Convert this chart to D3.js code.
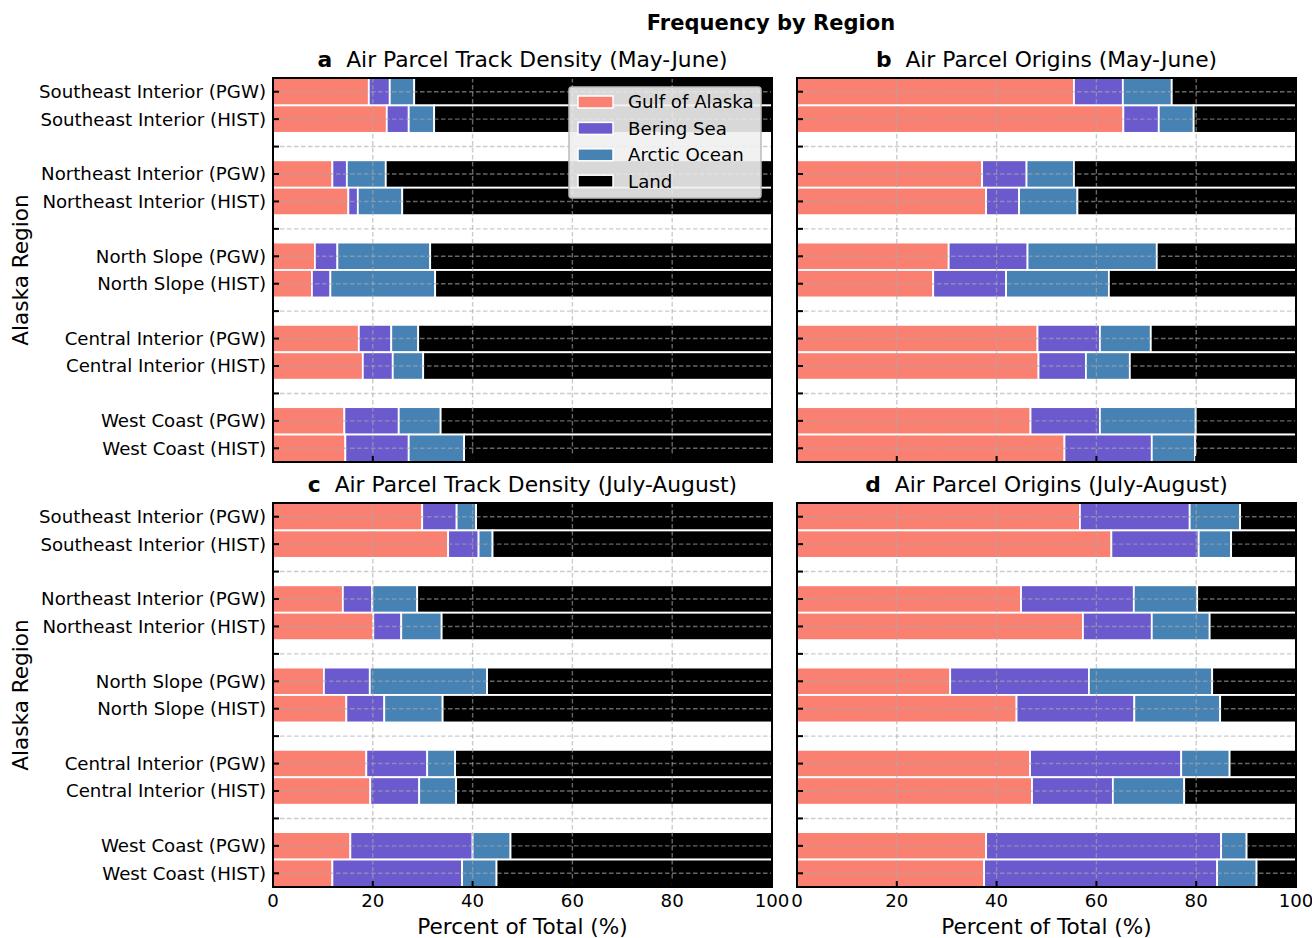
<!DOCTYPE html>
<html>
<head>
<meta charset="utf-8">
<script src="https://cdn.jsdelivr.net/npm/d3@7"></script>
<style>
  body { margin: 0; background: #fff; }
  svg { font-family: 'DejaVu Sans', sans-serif; }
</style>
</head>
<body>
<svg id="chart" width="1312" height="938"></svg>
<script>
// Sources and colours
const sources = ['Gulf of Alaska', 'Bering Sea', 'Arctic Ocean', 'Land'];
const sourceColors = ['#FA8072', '#6A5ACD', '#4682B4', '#000000'];

// Regions and runs (top to bottom)
const regions = ['Southeast Interior', 'Northeast Interior', 'North Slope', 'Central Interior', 'West Coast'];
const runs = ['PGW', 'HIST'];

const xTicks = [0, 20, 40, 60, 80, 100];

// Percent by source, one row per region/run: [Gulf, Bering, Arctic, Land]
const trackMayJun = [
    [19.2, 4.2, 4.9, 71.7], [22.8, 4.4, 5.1, 67.7],
    [11.9, 2.9, 7.8, 77.4], [15.1, 1.9, 8.9, 74.1],
    [8.4, 4.5, 18.6, 68.5], [7.8, 3.7, 21.0, 67.5],
    [17.2, 6.5, 5.4, 70.9], [18.0, 6.0, 6.1, 69.9],
    [14.3, 10.9, 8.4, 66.4], [14.5, 12.7, 11.1, 61.7]
];
const originsMayJun = [
    [55.5, 9.8, 9.8, 24.9], [65.4, 7.1, 7.0, 20.5],
    [37.1, 8.9, 9.5, 44.5], [37.9, 6.6, 11.7, 43.8],
    [30.4, 15.8, 25.9, 27.9], [27.3, 14.6, 20.6, 37.5],
    [48.2, 12.5, 10.2, 29.1], [48.4, 9.5, 8.8, 33.3],
    [46.8, 13.9, 19.2, 20.1], [53.6, 17.5, 8.7, 20.2]
];
const trackJulAug = [
    [29.9, 6.9, 3.9, 59.3], [35.1, 6.1, 2.8, 56.0],
    [14.0, 5.9, 9.0, 71.1], [20.1, 5.6, 8.1, 66.2],
    [10.2, 9.2, 23.5, 57.1], [14.7, 7.6, 11.7, 66.0],
    [18.7, 12.2, 5.6, 63.5], [19.5, 9.8, 7.4, 63.3],
    [15.5, 24.5, 7.6, 52.4], [11.9, 26.0, 6.9, 55.2]
];
const originsJulAug = [
    [56.7, 22.0, 10.1, 11.2], [63.0, 17.5, 6.5, 13.0],
    [44.9, 22.6, 12.7, 19.8], [57.3, 13.8, 11.6, 17.3],
    [30.7, 27.8, 24.7, 16.8], [44.0, 23.6, 17.2, 15.2],
    [46.7, 30.3, 9.7, 13.3], [47.1, 16.2, 14.3, 22.4],
    [37.9, 47.1, 5.1, 9.9], [37.5, 46.7, 7.9, 7.9]
];

const panels = [
    { letter: 'a', title: 'Air Parcel Track Density (May-June)', data: trackMayJun, x: 273, y: 78, ylab: true, xlab: false, legend: true },
    { letter: 'b', title: 'Air Parcel Origins (May-June)', data: originsMayJun, x: 797, y: 78, ylab: false, xlab: false, legend: false },
    { letter: 'c', title: 'Air Parcel Track Density (July-August)', data: trackJulAug, x: 273, y: 503, ylab: true, xlab: true, legend: false },
    { letter: 'd', title: 'Air Parcel Origins (July-August)', data: originsJulAug, x: 797, y: 503, ylab: false, xlab: true, legend: false }
];
const pw = 499, ph = 384;

// slot labels: PGW, HIST, gap for each region (last gap dropped)
const slots = [];
regions.forEach((r, i) => {
    runs.forEach(k => slots.push(`${r} (${k})`));
    if (i < regions.length - 1) slots.push('gap' + i);
});

const svg = d3.select('#chart');

svg.append('text')
    .attr('x', 771).attr('y', 30)
    .attr('text-anchor', 'middle')
    .style('font-size', '21px').style('font-weight', 'bold')
    .text('Frequency by Region');

panels.forEach(p => drawPanel(p));

function drawPanel(p) {
    const g = svg.append('g').attr('transform', `translate(${p.x},${p.y})`);
    const x = d3.scaleLinear().domain([0, 100]).range([0, pw]);
    const y = d3.scaleBand().domain(slots).range([0, ph]).padding(0);

    // stacked bars
    const rows = [];
    p.data.forEach((vals, i) => {
        const label = `${regions[Math.floor(i / 2)]} (${runs[i % 2]})`;
        let acc = 0;
        vals.forEach((v, s) => {
            rows.push({ label, s, x0: acc, x1: acc + v });
            acc += v;
        });
    });
    g.selectAll('rect.bar')
        .data(rows)
        .enter().append('rect')
        .attr('class', 'bar')
        .attr('x', d => x(d.x0))
        .attr('width', d => Math.min(x(d.x1), pw) - x(d.x0))
        .attr('y', d => y(d.label))
        .attr('height', y.bandwidth())
        .attr('fill', d => sourceColors[d.s])
        .attr('stroke', '#fff')
        .attr('stroke-width', 1.8);

    // grid over bars
    const grid = g.append('g')
        .attr('stroke', '#aaa')
        .attr('stroke-opacity', 0.6)
        .attr('stroke-width', 1.4)
        .attr('stroke-dasharray', '4.5,2.5');
    grid.selectAll('line.gx')
        .data(xTicks.slice(1, -1))
        .enter().append('line')
        .attr('x1', d => x(d)).attr('x2', d => x(d))
        .attr('y1', 0).attr('y2', ph);
    grid.selectAll('line.gy')
        .data(slots)
        .enter().append('line')
        .attr('x1', 0).attr('x2', pw)
        .attr('y1', d => y(d) + y.bandwidth() / 2)
        .attr('y2', d => y(d) + y.bandwidth() / 2);

    // inward ticks
    g.selectAll('line.ty')
        .data(slots)
        .enter().append('line')
        .attr('x1', 0).attr('x2', 6)
        .attr('y1', d => y(d) + y.bandwidth() / 2)
        .attr('y2', d => y(d) + y.bandwidth() / 2)
        .attr('stroke', '#000').attr('stroke-width', 2);
    g.selectAll('line.tx')
        .data(xTicks)
        .enter().append('line')
        .attr('x1', d => x(d)).attr('x2', d => x(d))
        .attr('y1', ph).attr('y2', ph - 6)
        .attr('stroke', '#000').attr('stroke-width', 2);

    // frame
    g.append('rect')
        .attr('width', pw).attr('height', ph)
        .attr('fill', 'none').attr('stroke', '#000').attr('stroke-width', 2);

    // y tick labels
    if (p.ylab) {
        g.selectAll('text.yt')
            .data(slots.filter(s => !s.startsWith('gap')))
            .enter().append('text')
            .attr('x', -7)
            .attr('y', d => y(d) + y.bandwidth() / 2)
            .attr('dy', '0.35em')
            .attr('text-anchor', 'end')
            .style('font-size', '18.2px')
            .text(d => d);
        g.append('text')
            .attr('transform', `translate(${20 - p.x},${ph / 2}) rotate(-90)`)
            .attr('text-anchor', 'middle')
            .attr('dy', '0.35em')
            .style('font-size', '21.6px')
            .text('Alaska Region');
    }
    if (p.xlab) {
        // x tick labels only on the bottom row
        g.selectAll('text.xt')
            .data(xTicks)
            .enter().append('text')
            .attr('x', d => x(d)).attr('y', ph + 20)
            .attr('text-anchor', 'middle')
            .style('font-size', '18.2px')
            .text(d => d);
        g.append('text')
            .attr('x', pw / 2).attr('y', ph + 47)
            .attr('text-anchor', 'middle')
            .style('font-size', '21.6px')
            .text('Percent of Total (%)');
    }

    // title
    const t = g.append('text')
        .attr('x', pw / 2).attr('y', -11)
        .attr('text-anchor', 'middle')
        .style('font-size', '21.8px');
    t.append('tspan').style('font-weight', 'bold').text(p.letter);
    t.append('tspan').text('\u00a0\u00a0' + p.title);

    if (p.legend) {
        const lg = g.append('g').attr('transform', `translate(${569 - p.x},${87 - p.y})`);
        lg.append('rect')
            .attr('width', 192).attr('height', 111)
            .attr('rx', 3)
            .attr('fill', '#f0f0f0').attr('fill-opacity', 0.9)
            .attr('stroke', '#bbb').attr('stroke-width', 1.5);
        sources.forEach((s, i) => {
            lg.append('rect')
                .attr('x', 9).attr('y', 9 + i * 26.4)
                .attr('width', 35).attr('height', 12)
                .attr('fill', sourceColors[i])
                .attr('stroke', '#fff').attr('stroke-width', 1.5);
            lg.append('text')
                .attr('x', 59).attr('y', 15 + i * 26.4)
                .attr('dy', '0.35em')
                .style('font-size', '18.2px')
                .text(s);
        });
    }
}
</script>
</body>
</html>
